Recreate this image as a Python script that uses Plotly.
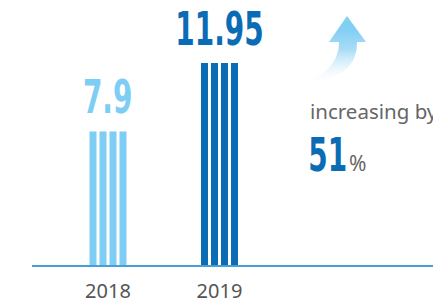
import numpy as np
import plotly.graph_objects as go

years = ["2018", "2019"]
values = [7.9, 11.95]
value_labels = ["7.9", "11.95"]
bar_colors = ["#7dcdf4", "#0b6cb6"]
increase_text = "increasing by"
increase_pct = "51"
pct_sign = "%"

NUM_FONT = "DejaVu Sans Condensed, DejaVu Sans, sans-serif"
TXT_FONT = "Noto Sans, Open Sans, sans-serif"

xpos = list(range(len(years)))
fig = go.Figure()

# each bar drawn as 4 thin stripes
n_stripes = 4
unit_px = 111.5
stripe_w = 7 / unit_px
pitch = 10 / unit_px
start = -18.5 / unit_px
for i in range(n_stripes):
    fig.add_trace(go.Bar(
        x=xpos, y=values, width=stripe_w, offset=start + i * pitch,
        marker=dict(color=bar_colors, line=dict(width=0)),
        showlegend=False, hoverinfo="skip"))

# value labels
for xi, v, lab, c in zip(xpos, values, value_labels, bar_colors):
    fig.add_annotation(x=xi, y=v, xref="x", yref="y", text=f"<b>{lab}</b>",
                       showarrow=False, yanchor="bottom", yshift=5,
                       font=dict(family=NUM_FONT, size=46, color=c))

# decorative arrow (overlay pixel axes)
def quad(p0, p1, p2, n=30):
    t = np.linspace(0, 1, n)[:, None]
    p0, p1, p2 = map(np.array, (p0, p1, p2))
    return (1 - t) ** 2 * p0 + 2 * (1 - t) * t * p1 + t ** 2 * p2

pts = [np.array([[347, 16], [366, 42], [357, 42]])]
pts.append(quad((357, 42), (358, 80), (300, 84)))
pts.append(quad((300, 84), (339, 72), (339, 42)))
pts.append(np.array([[329, 42], [347, 16]]))
arrow = np.vstack(pts)
fig.add_trace(go.Scatter(
    x=arrow[:, 0], y=arrow[:, 1], xaxis="x2", yaxis="y2",
    mode="lines", line=dict(width=0), fill="toself",
    fillgradient=dict(type="vertical", start=30, stop=86,
                      colorscale=[[0, "#82cff4"], [0.35, "#a9dcf6"], [1, "rgba(255,255,255,0)"]]),
    showlegend=False, hoverinfo="skip"))

fig.add_annotation(x=308, y=111, xref="x2", yref="y2", text=increase_text,
                   showarrow=False, xanchor="left", yanchor="middle",
                   font=dict(family=TXT_FONT, size=20.5, color="#666666"))
fig.add_annotation(x=327.5, y=155, xref="x2", yref="y2", text=f"<b>{increase_pct}</b>",
                   showarrow=False, xanchor="center", yanchor="middle",
                   font=dict(family=NUM_FONT, size=46, color="#0b6cb6"))
fig.add_annotation(x=347, y=163, xref="x2", yref="y2", text=pct_sign,
                   showarrow=False, xanchor="left", yanchor="middle",
                   font=dict(family=TXT_FONT, size=21, color="#666666"))

fig.update_layout(
    width=433, height=303, margin=dict(l=32, r=0, t=0, b=38),
    paper_bgcolor="white", plot_bgcolor="white", barmode="overlay",
    xaxis=dict(range=[-0.6816, 2.915], tickmode="array", tickvals=xpos, ticktext=years,
               showgrid=False, zeroline=False, showline=True, linecolor="#4a9fd6", linewidth=2,
               ticks="outside", ticklen=7, tickcolor="rgba(0,0,0,0)",
               tickfont=dict(family=TXT_FONT, size=20, color="#555555")),
    yaxis=dict(range=[0, 265 / 16.9], visible=False, showgrid=False, zeroline=False),
    xaxis2=dict(range=[32, 433], overlaying="x", visible=False, fixedrange=True),
    yaxis2=dict(range=[265, 0], overlaying="y", visible=False, fixedrange=True),
)

post = """
document.body.style.margin = '0';
document.body.style.overflow = 'hidden';
var gd = document.getElementById('{plot_id}');
function condense() {
  gd.querySelectorAll('.annotation').forEach(function(a) {
    var i = +a.getAttribute('data-index');
    if ([0, 1, 3].indexOf(i) >= 0) {
      var t = a.querySelector('text');
      t.style.transformBox = 'fill-box';
      t.style.transformOrigin = 'center';
      t.style.transform = 'scaleX(0.675)';
    }
  });
}
condense();
gd.on('plotly_afterplot', condense);
"""

fig.write_html("out.html", post_script=post, config={"displayModeBar": False})
